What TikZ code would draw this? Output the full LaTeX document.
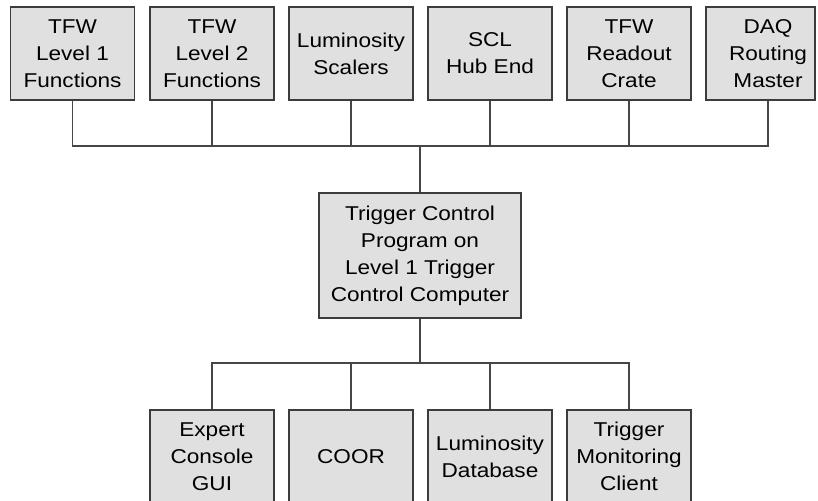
\documentclass[tikz,border=0pt]{standalone}
\usepackage{fontspec}
\setmainfont{Liberation Sans}[FakeStretch=1.13]
\definecolor{boxfill}{RGB}{224,224,224}
\definecolor{boxline}{RGB}{60,60,60}
\definecolor{wirecol}{RGB}{70,70,70}
\begin{document}
\begin{tikzpicture}[x=1pt,y=-1pt,
  box/.style={draw=boxline, fill=boxfill, line width=1.4pt, minimum width=124pt,
    minimum height=93pt, inner sep=0pt, align=center,
    font=\fontsize{20}{27}\selectfont},
  txt/.style={inner sep=0pt, align=center, font=\fontsize{20}{27}\selectfont},
  wire/.style={draw=wirecol, line width=1.4pt}]
\useasboundingbox[fill=white] (0,0) rectangle (818,500);
% top row
\node[box] (t1) at (72.5,53.5) {TFW\\Level 1\\Functions};
\node[box] (t2) at (212,53.5) {TFW\\Level 2\\Functions};
\node[box] (t3) at (351,53.5) {Luminosity\\Scalers};
\node[box] (t4) at (490,53.5) {SCL\\Hub End};
\node[box] (t5) at (629,53.5) {TFW\\Readout\\Crate};
\node[box, minimum width=109pt] (t6) at (760.5,53.5) {};
\node[txt] (t6t) at (768,53.5) {DAQ\\Routing\\Master};
% centre
\node[box, minimum width=202pt, minimum height=125pt] (c) at (420,255.5)
  {Trigger Control\\Program on\\Level 1 Trigger\\Control Computer};
% bottom row
\node[box] (b1) at (212,456.5) {Expert\\Console\\GUI};
\node[box] (b2) at (351,456.5) {COOR};
\node[box] (b3) at (490,456.5) {Luminosity\\Database};
\node[box] (b4) at (629,456.5) {Trigger\\Monitoring\\Client};
% buses
\coordinate (bt) at (420,146);
\coordinate (bb) at (420,363);
\draw[wire] (t1.south) |- (bt) -| (t6t |- t6.south);
\foreach \n in {t2,t3,t4,t5}{\draw[wire] (\n.south) -- (\n.south |- bt);}
\draw[wire] (bt) -- (c.north);
\draw[wire] (c.south) -- (bb);
\draw[wire] (b1.north) |- (bb) -| (b4.north);
\foreach \n in {b2,b3}{\draw[wire] (\n.north) -- (\n.north |- bb);}
\end{tikzpicture}
\end{document}
